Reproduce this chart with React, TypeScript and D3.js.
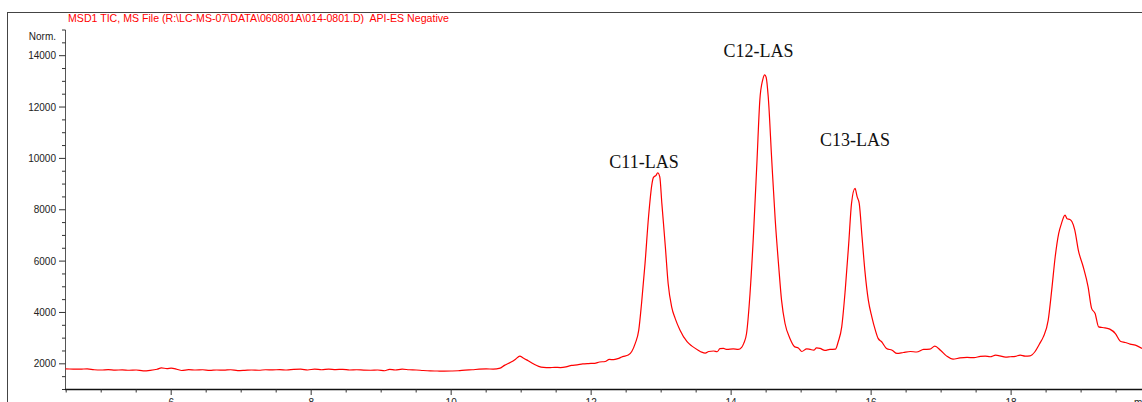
import * as d3 from 'd3';

const titleText = 'MSD1 TIC, MS File (R:\\LC-MS-07\\DATA\\060801A\\014-0801.D)  API-ES Negative';

// retention time (min) and TIC abundance
const traceTime = [
  4.49, 4.6, 4.7, 4.8, 4.9, 5.0, 5.1, 5.2, 5.3, 5.4, 5.5, 5.6, 5.7, 5.8, 5.86, 5.94, 6.0, 6.08, 6.15, 6.25,
  6.35, 6.45, 6.55, 6.65, 6.75, 6.85, 6.95, 7.05, 7.15, 7.25, 7.35, 7.45, 7.55, 7.65, 7.75, 7.85, 7.95, 8.05,
  8.15, 8.25, 8.35, 8.45, 8.55, 8.65, 8.75, 8.85, 8.95, 9.05, 9.12, 9.2, 9.3, 9.4, 9.5, 9.6, 9.7, 9.8, 9.9,
  10.0, 10.1, 10.2, 10.3, 10.4, 10.5, 10.6, 10.7, 10.76, 10.85, 10.92, 10.98, 11.03, 11.1, 11.18, 11.25,
  11.32, 11.4, 11.48, 11.56, 11.64, 11.72, 11.8, 11.88, 11.96, 12.05, 12.12, 12.2, 12.26, 12.32, 12.38,
  12.45, 12.53, 12.58, 12.63, 12.68, 12.72, 12.77, 12.82, 12.87, 12.89, 12.93, 12.95, 12.98, 13.01, 13.06,
  13.1, 13.15, 13.2, 13.27, 13.37, 13.44, 13.53, 13.58, 13.63, 13.68, 13.75, 13.8, 13.84, 13.89, 13.94,
  14.03, 14.1, 14.15, 14.18, 14.22, 14.27, 14.32, 14.37, 14.41, 14.45, 14.48, 14.5, 14.53, 14.58, 14.63,
  14.68, 14.72, 14.77, 14.84, 14.91, 14.96, 15.01, 15.08, 15.13, 15.18, 15.22, 15.27, 15.34, 15.41, 15.49,
  15.53, 15.58, 15.63, 15.68, 15.72, 15.77, 15.8, 15.83, 15.87, 15.91, 15.96, 16.01, 16.06, 16.1, 16.15,
  16.22, 16.3, 16.37, 16.46, 16.56, 16.65, 16.75, 16.84, 16.91, 16.99, 17.08, 17.17, 17.27, 17.37, 17.47,
  17.56, 17.63, 17.7, 17.78, 17.84, 17.92, 17.99, 18.06, 18.13, 18.2, 18.27, 18.34, 18.41, 18.46, 18.53,
  18.58, 18.63, 18.68, 18.72, 18.77, 18.8, 18.84, 18.87, 18.91, 18.96, 19.03, 19.1, 19.15, 19.2, 19.25,
  19.34, 19.41, 19.49, 19.56, 19.63, 19.7, 19.8, 19.87,
];
const traceAbundance = [
  1800, 1795, 1790, 1805, 1770, 1760, 1775, 1755, 1765, 1750, 1760, 1725, 1745, 1790, 1840, 1815, 1830, 1790, 1740, 1775,
  1760, 1770, 1745, 1760, 1755, 1770, 1735, 1745, 1760, 1750, 1770, 1765, 1775, 1760, 1780, 1790, 1760, 1795,
  1770, 1790, 1775, 1785, 1760, 1770, 1755, 1750, 1760, 1730, 1785, 1760, 1790, 1770, 1760, 1740, 1725, 1720, 1715,
  1720, 1730, 1755, 1770, 1790, 1800, 1795, 1830, 1940, 2060, 2180, 2300, 2230, 2120, 1990, 1900,
  1860, 1850, 1865, 1855, 1880, 1940, 1960, 1995, 2010, 2020, 2070, 2090, 2170, 2160, 2200,
  2280, 2340, 2480, 2795, 3310, 4350, 5910, 7730, 9030, 9260, 9350, 9440, 9290, 8250, 6560,
  5130, 4220, 3770, 3310, 2860, 2690, 2530, 2455, 2420, 2480, 2500, 2470, 2590, 2600, 2560,
  2580, 2560, 2640, 2795, 3180, 4740, 7080, 9940, 12270, 13050, 13250, 13160, 12400, 9940, 7600,
  5780, 4480, 3570, 2990, 2660, 2620, 2480, 2585, 2560, 2530, 2620, 2600, 2520, 2560, 2570,
  2860, 3440, 4870, 6690, 8250, 8830, 8510, 8250, 6950, 5650, 4480, 3830, 3310, 2990, 2860,
  2600, 2530, 2405, 2440, 2480, 2460, 2560, 2570, 2690, 2530, 2300, 2180, 2230, 2250, 2240,
  2290, 2300, 2275, 2340, 2310, 2260, 2275, 2290, 2340, 2300, 2310, 2470, 2795, 3050, 3700,
  4870, 6170, 7080, 7470, 7790, 7650, 7620, 7530, 7210, 6430, 5780, 5000, 4160, 3960, 3440,
  3400, 3350, 3180, 2880, 2830, 2770, 2700, 2600,
];

const peakLabels = ['C11-LAS', 'C12-LAS', 'C13-LAS'];
const peakLabelTime = [12.26, 13.89, 15.27];
const peakLabelValue = [9640, 13960, 10490];

const xDomain = [4.49, 19.87];
const yDomain = [1000, 15000];
const xMajor = [6, 8, 10, 12, 14, 16, 18];
const yMajor = [2000, 4000, 6000, 8000, 10000, 12000, 14000];

const W = 1142;
const H = 402;

export default function App() {
  const x = d3.scaleLinear().domain(xDomain).range([65.5, W]);
  const y = d3.scaleLinear().domain(yDomain).range([389.5, 30]);

  const points = traceTime.map((t, i) => [t, traceAbundance[i]] as [number, number]);
  const line = d3
    .line<[number, number]>()
    .x((d) => x(d[0]))
    .y((d) => y(d[1]))
    .curve(d3.curveMonotoneX);

  const xMinor = d3.range(4.5, 19.9, 0.5).filter((t) => !xMajor.includes(t));
  const yMinor = d3.range(1000, 15001, 500).filter((v) => !yMajor.includes(v));
  const sans = '"Liberation Sans", Arial, sans-serif';

  return (
    <svg
      width={W}
      height={H}
      style={{ position: 'absolute', left: 0, top: 0, display: 'block', background: '#fff' }}
    >
      {/* outer frame */}
      <line x1={7} x2={W} y1={12.5} y2={12.5} stroke="#444" strokeWidth={1} />
      <line x1={7.5} x2={7.5} y1={12} y2={H} stroke="#444" strokeWidth={1} />

      <text x={68} y={21.5} fill="#ff0000" fontFamily={sans} fontSize={10.6} style={{ whiteSpace: 'pre' }}>
        {titleText}
      </text>

      {/* y axis */}
      <line x1={65.5} x2={65.5} y1={y(15000)} y2={y(1000)} stroke="#555" strokeWidth={1} />
      {yMajor.map((v) => (
        <g key={v}>
          <line x1={59} x2={65.5} y1={y(v)} y2={y(v)} stroke="#333" />
          <text x={56} y={y(v)} dy="0.35em" textAnchor="end" fontFamily={sans} fontSize={10} fill="#222">
            {v}
          </text>
        </g>
      ))}
      {yMinor.map((v) => (
        <line key={v} x1={62} x2={65.5} y1={y(v)} y2={y(v)} stroke="#333" />
      ))}
      <text x={56} y={y(15000) + 6} dy="0.35em" textAnchor="end" fontFamily={sans} fontSize={10} fill="#222">
        Norm.
      </text>

      {/* x axis */}
      <line x1={65} x2={W} y1={389.5} y2={389.5} stroke="#111" strokeWidth={1.5} />
      {xMajor.map((t) => (
        <g key={t}>
          <line x1={x(t)} x2={x(t)} y1={389.5} y2={395} stroke="#333" />
          <text x={x(t)} y={405.5} textAnchor="middle" fontFamily={sans} fontSize={10} fill="#222">
            {t}
          </text>
        </g>
      ))}
      {xMinor.map((t) => (
        <line key={t} x1={x(t)} x2={x(t)} y1={389.5} y2={392.5} stroke="#333" />
      ))}
      <text x={1134} y={405.5} fontFamily={sans} fontSize={10} fill="#222">
        min
      </text>

      {/* trace */}
      <path d={line(points) ?? ''} fill="none" stroke="#ff0000" strokeWidth={1.2} strokeLinejoin="round" />

      {peakLabels.map((lab, i) => (
        <text
          key={lab}
          x={x(peakLabelTime[i])}
          y={y(peakLabelValue[i])}
          fontFamily='"Liberation Serif", "Times New Roman", serif'
          fontSize={18}
          fill="#111"
        >
          {lab}
        </text>
      ))}
    </svg>
  );
}
